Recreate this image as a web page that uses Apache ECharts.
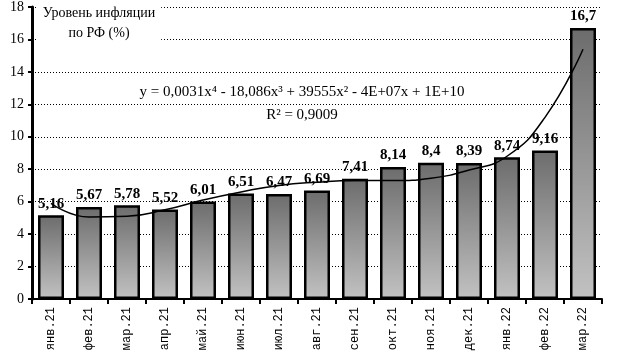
<!DOCTYPE html>
<html>
<head>
<meta charset="utf-8">
<script src="https://cdn.jsdelivr.net/npm/echarts@6/dist/echarts.min.js"></script>
<style>
html, body { margin: 0; padding: 0; background: #fff; }
#chart { width: 617px; height: 358px; }
</style>
</head>
<body>
<div id="chart"></div>
<script>
// months
var categories = ['янв.21', 'фев.21', 'мар.21', 'апр.21', 'май.21', 'июн.21', 'июл.21', 'авг.21',
	'сен.21', 'окт.21', 'ноя.21', 'дек.21', 'янв.22', 'фев.22', 'мар.22'];
// inflation, %
var inflation = [5.16, 5.67, 5.78, 5.52, 6.01, 6.51, 6.47, 6.69, 7.41, 8.14, 8.4, 8.39, 8.74, 9.16, 16.7];
// trend line
var trend = [5.9, 5.05, 5.1, 5.5, 6.1, 6.6, 7.0, 7.2, 7.3, 7.3, 7.45, 7.95, 8.8, 11.2, 15.4];
var yTicks = [0, 2, 4, 6, 8, 10, 12, 14, 16, 18];

var serif = '"Liberation Serif", "Times New Roman", serif';

var myChart = echarts.init(document.getElementById('chart'));

var option = {
	animation: false,
	title: [
		{
			text: 'Уровень инфляции\nпо РФ (%)',
			left: 93, top: 0,
			textAlign: 'center',
			backgroundColor: '#fff',
			padding: [3, 6, 5, 6],
			textStyle: { fontFamily: serif, fontSize: 14, fontWeight: 'normal', color: '#000', lineHeight: 20 }
		},
		{
			text: 'y = 0,0031x⁴ - 18,086x³ + 39555x² - 4E+07x + 1E+10\nR² = 0,9009',
			left: 302, top: 81,
			textAlign: 'center',
			padding: 0,
			textStyle: { fontFamily: serif, fontSize: 15, fontWeight: 'normal', color: '#000', lineHeight: 23 }
		}
	],
	grid: { left: 32, right: 15, top: 7, bottom: 59 },
	xAxis: {
		type: 'category',
		data: categories,
		axisLine: { lineStyle: { color: '#000', width: 2 } },
		axisTick: { show: true, length: 5, lineStyle: { color: '#000', width: 2 } },
		axisLabel: { rotate: 90, margin: 8, fontFamily: '"Liberation Mono", monospace', fontSize: 12, color: '#000' }
	},
	yAxis: {
		type: 'value',
		min: 0, max: 18, interval: 2,
		axisLine: { show: true, lineStyle: { color: '#000', width: 3 } },
		axisTick: { show: true, length: 4, lineStyle: { color: '#000', width: 2 } },
		axisLabel: {
			margin: 8, fontFamily: serif, fontSize: 14, color: '#000',
			formatter: function(v){ return yTicks.indexOf(v) >= 0 ? String(v) : ''; }
		},
		splitLine: { show: true, lineStyle: { color: '#000', width: 1, type: [1, 2] } }
	},
	series: [
		{
			name: 'Инфляция',
			type: 'bar',
			data: inflation,
			barWidth: 26,
			itemStyle: {
				color: new echarts.graphic.LinearGradient(0, 0, 0, 1, [
					{ offset: 0, color: '#6c6c6c' },
					{ offset: 1, color: '#c2c2c2' }
				]),
				borderColor: '#000',
				borderWidth: 2.5
			},
			label: {
				show: true,
				position: 'top',
				distance: 4,
				fontFamily: serif, fontSize: 15, fontWeight: 'bold', color: '#000',
				formatter: function(p){ return String(p.value).replace('.', ','); }
			}
		},
		{
			name: 'Тренд',
			type: 'line',
			data: trend,
			smooth: true,
			showSymbol: false,
			z: 3,
			lineStyle: { color: '#000', width: 1.5 }
		}
	]
};
myChart.setOption(option);
</script>
</body>
</html>
